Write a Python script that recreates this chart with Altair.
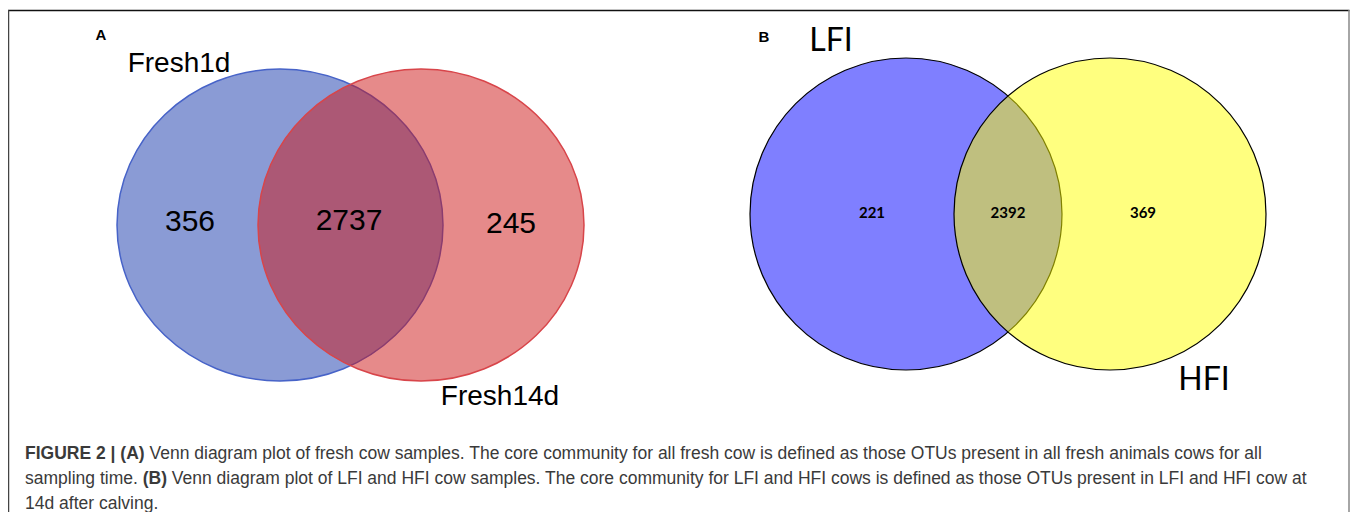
import altair as alt
import pandas as pd

# ---------------- data ----------------
panel_tags = ["A", "B"]
a_sets = ["Fresh1d", "Fresh14d"]
a_counts = [356, 2737, 245]          # only Fresh1d, shared, only Fresh14d
b_sets = ["LFI", "HFI"]
b_counts = [221, 2392, 369]          # only LFI, shared, only HFI

cap1_bold = "FIGURE 2 | (A)"
cap1_text = ("Venn diagram plot of fresh cow samples. The core community for all fresh cow is "
             "defined as those OTUs present in all fresh animals cows for all")
cap2_pre = "sampling time."
cap2_bold = "(B)"
cap2_text = ("Venn diagram plot of LFI and HFI cow samples. The core community for LFI and HFI "
             "cows is defined as those OTUs present in LFI and HFI cow at")
cap3_text = "14d after calving."

# ---------------- layout (page pixel frame) ----------------
W, H = 1342, 504
OX, OY = 8, 8
xs = alt.Scale(domain=[OX, OX + W], range=[0, W], nice=False, zero=False)
ys = alt.Scale(domain=[OY + H, OY], nice=False, zero=False)


def enc(ch):
    return ch.encode(x=alt.X("x:Q", scale=xs, axis=None),
                     y=alt.Y("y:Q", scale=ys, axis=None))


def ellipse_path(k):
    c = 0.5523
    return (f"M -1 0 C -1 {-c*k:.4f} {-c:.4f} {-k:.4f} 0 {-k:.4f} "
            f"C {c:.4f} {-k:.4f} 1 {-c*k:.4f} 1 0 "
            f"C 1 {c*k:.4f} {c:.4f} {k:.4f} 0 {k:.4f} "
            f"C {-c:.4f} {k:.4f} -1 {c*k:.4f} -1 0 Z")


layers = []

# ellipses
ell_a = [  # name, cx, cy, rx, ry, fill, stroke
    (a_sets[0], 280, 225, 163, 156, "#1537ab", "#4763c8"),
    (a_sets[1], 421, 225, 163, 156, "#cd1515", "#d8454a"),
]
for name, cx, cy, rx, ry, fill, stroke in ell_a:
    df = pd.DataFrame({"x": [cx], "y": [cy], "set": [name]})
    layers.append(enc(alt.Chart(df).mark_point(
        shape=ellipse_path(ry / rx), size=(2 * rx) ** 2, filled=True,
        fill=fill, fillOpacity=0.5, stroke=stroke, strokeWidth=1.5,
        strokeOpacity=1, opacity=1)))

ell_b = [
    (b_sets[0], 906, 214, 156, 156, "#0000ff", "#000000"),
    (b_sets[1], 1110, 214, 156, 156, "#ffff00", "#000000"),
]
for name, cx, cy, rx, ry, fill, stroke in ell_b:
    df = pd.DataFrame({"x": [cx], "y": [cy], "set": [name]})
    layers.append(enc(alt.Chart(df).mark_point(
        shape=ellipse_path(ry / rx), size=(2 * rx) ** 2, filled=True,
        fill=fill, fillOpacity=0.5, stroke=stroke, strokeWidth=1.2,
        strokeOpacity=1, opacity=1)))

# counts
df_a_cnt = pd.DataFrame({"x": [190, 349, 511], "y": [222, 221, 224],
                         "t": [str(v) for v in a_counts]})
layers.append(enc(alt.Chart(df_a_cnt).mark_text(
    font="Liberation Sans", fontSize=30, color="#000000", baseline="middle",
    align="center")).encode(text="t:N"))

df_b_cnt = pd.DataFrame({"x": [872, 1008, 1143], "y": [213, 213, 213],
                         "t": [str(v) for v in b_counts]})
layers.append(enc(alt.Chart(df_b_cnt).mark_text(
    font="Lato", fontWeight="bold", fontSize=15, color="#000000",
    baseline="middle", align="center")).encode(text="t:N"))

# set labels
df_a_lab = pd.DataFrame({"x": [179, 500], "y": [72, 405], "t": a_sets})
layers.append(enc(alt.Chart(df_a_lab).mark_text(
    font="Liberation Sans", fontSize=28, color="#000000", baseline="alphabetic",
    align="center")).encode(text="t:N"))

df_b_lab = pd.DataFrame({"x": [831, 1204], "y": [51, 390], "t": b_sets})
layers.append(enc(alt.Chart(df_b_lab).mark_text(
    font="Lato", fontSize=32, color="#000000", baseline="alphabetic",
    align="center")).encode(text="t:N"))

# panel tags
df_tag = pd.DataFrame({"x": [101, 764], "y": [40, 42], "t": panel_tags})
layers.append(enc(alt.Chart(df_tag).mark_text(
    font="Liberation Sans", fontWeight="bold", fontSize=15, color="#000000",
    baseline="alphabetic", align="center")).encode(text="t:N"))

# caption
fs = 17.5
x0 = 25
seg_rows = [
    (x0, 459, cap1_bold, "bold"),
    (x0 + (6.836 + 0.278) * fs, 459, cap1_text, "normal"),
    (x0, 484, cap2_pre, "normal"),
    (x0 + 6.724 * fs, 484, cap2_bold, "bold"),
    (x0 + (6.724 + 1.388 + 0.278) * fs, 484, cap2_text, "normal"),
    (x0, 509, cap3_text, "normal"),
]
for wt in ["bold", "normal"]:
    rows = [r for r in seg_rows if r[3] == wt]
    df = pd.DataFrame({"x": [r[0] for r in rows], "y": [r[1] for r in rows],
                       "t": [r[2] for r in rows]})
    layers.append(enc(alt.Chart(df).mark_text(
        font="Liberation Sans", fontWeight=wt, fontSize=fs, color="#3a3a3a",
        baseline="alphabetic", align="left")).encode(text="t:N"))

# frame
frame = alt.Chart(pd.DataFrame({"k": [0]}))
layers.append(frame.mark_rule(color="#111111", strokeWidth=1.5).encode(
    x=alt.value(0), x2=alt.value(W - 0.5), y=alt.value(2.5)))
layers.append(frame.mark_rule(color="#444444", strokeWidth=1.5).encode(
    x=alt.value(0.5), y=alt.value(2), y2=alt.value(H)))
layers.append(frame.mark_rule(color="#888888", strokeWidth=1.5).encode(
    x=alt.value(W - 1), y=alt.value(2), y2=alt.value(H)))

chart = alt.layer(*layers).properties(
    width=W, height=H, padding=0, autosize=alt.AutoSizeParams(type="none"),
    background="white"
).configure_view(stroke=None)

chart.save("out.html", embed_options={"renderer": "svg", "actions": False})
